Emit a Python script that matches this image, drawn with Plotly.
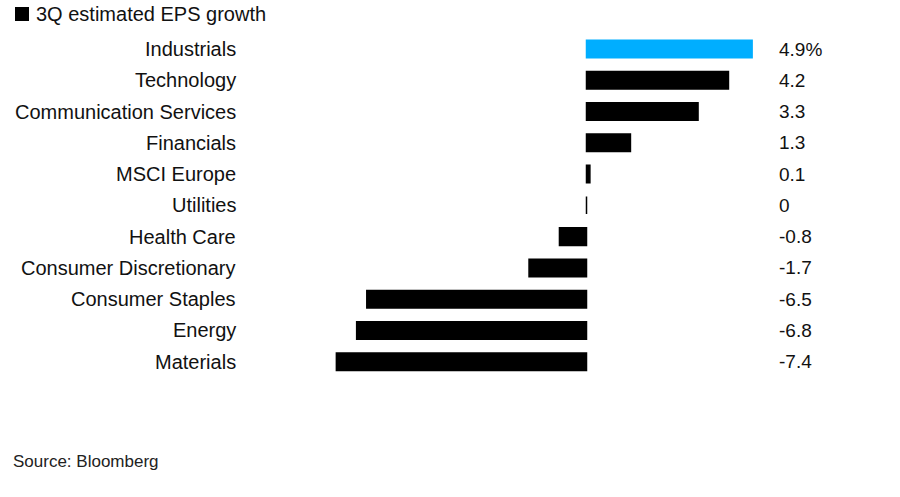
import plotly.graph_objects as go

categories = ["Industrials", "Technology", "Communication Services", "Financials",
              "MSCI Europe", "Utilities", "Health Care", "Consumer Discretionary",
              "Consumer Staples", "Energy", "Materials"]
values = [4.9, 4.2, 3.3, 1.3, 0.1, 0, -0.8, -1.7, -6.5, -6.8, -7.4]
value_labels = ["4.9%", "4.2", "3.3", "1.3", "0.1", "0", "-0.8", "-1.7", "-6.5", "-6.8", "-7.4"]
highlight = "Industrials"

BLUE = "#00aeff"
colors = [BLUE if c == highlight else "#000000" for c in categories]

W, H = 900, 497
px_per_unit = 33.8
zero_px = 586.5
row0_px = 49.0
row_step = 31.27

x_range = [(0 - zero_px) / px_per_unit, (W - zero_px) / px_per_unit]
y_top = -row0_px / row_step
y_bot = (H - row0_px) / row_step


def px(x):
    return x / W


def py(y):
    return 1 - y / H


fig = go.Figure()
fig.add_trace(go.Bar(
    x=values, y=categories, orientation="h",
    marker=dict(color=colors, line=dict(color=colors, width=1.5)),
    width=0.56, showlegend=False, hoverinfo="skip",
))

font = "Liberation Sans, Arial, Helvetica, sans-serif"
for c, lab in zip(categories, value_labels):
    fig.add_annotation(x=px(777), xref="paper", y=c, yref="y", text=lab,
                       showarrow=False, xanchor="left", yanchor="middle",
                       font=dict(family=font, size=19, color="#111111"))
    fig.add_annotation(x=px(238), xref="paper", y=c, yref="y", text=c,
                       showarrow=False, xanchor="right", yanchor="middle",
                       font=dict(family=font, size=20, color="#111111"))

# legend
fig.add_shape(type="rect", xref="paper", yref="paper",
              x0=px(15), x1=px(29), y0=py(21), y1=py(7),
              fillcolor="#000000", line=dict(width=0))
fig.add_annotation(x=px(35), xref="paper", y=py(14), yref="paper",
                   text="3Q estimated EPS growth", showarrow=False,
                   xanchor="left", yanchor="middle", borderpad=0,
                   font=dict(family=font, size=20, color="#111111"))
fig.add_annotation(x=px(11), xref="paper", y=py(461), yref="paper",
                   text="Source: Bloomberg", showarrow=False,
                   xanchor="left", yanchor="middle",
                   font=dict(family=font, size=17, color="#222222"))

fig.update_layout(
    width=W, height=H, margin=dict(l=0, r=0, t=0, b=0),
    paper_bgcolor="white", plot_bgcolor="white",
    xaxis=dict(range=x_range, visible=False, fixedrange=True),
    yaxis=dict(range=[y_bot, y_top], visible=False, fixedrange=True,
               categoryorder="array", categoryarray=categories),
    bargap=0.4,
)

fig.write_html("out.html", config={"displayModeBar": False},
               post_script="document.body.style.margin='0';")
